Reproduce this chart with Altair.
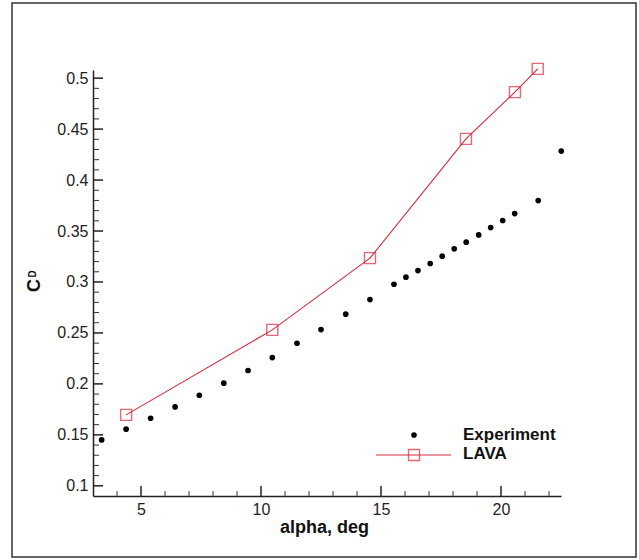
import altair as alt
import pandas as pd

# ---- data ----
exp_alpha = [3.36, 4.38, 5.40, 6.42, 7.43, 8.45, 9.46, 10.47, 11.50, 12.50,
             13.53, 14.54, 15.54, 16.04, 16.54, 17.05, 17.55, 18.05, 18.55,
             19.07, 19.57, 20.07, 20.57, 21.55, 22.51]
exp_cd = [0.145, 0.1556, 0.1663, 0.1774, 0.1889, 0.2007, 0.2131, 0.2258, 0.2399, 0.2533,
          0.2684, 0.2827, 0.2978, 0.3047, 0.3112, 0.3181, 0.3253, 0.3325, 0.3391,
          0.3462, 0.3534, 0.3603, 0.3671, 0.3799, 0.4284]

lava_alpha = [4.38, 10.47, 14.54, 18.54, 20.58, 21.53]
lava_cd = [0.1696, 0.2530, 0.3234, 0.4404, 0.4863, 0.5091]

x_major = [5, 10, 15, 20]
x_minor = [4, 6, 7, 8, 9, 11, 12, 13, 14, 16, 17, 18, 19, 21, 22]
y_major = [0.1, 0.15, 0.2, 0.25, 0.3, 0.35, 0.4, 0.45, 0.5]
y_minor = [0.11, 0.12, 0.13, 0.14, 0.16, 0.17, 0.18, 0.19, 0.21, 0.22, 0.23, 0.24,
           0.26, 0.27, 0.28, 0.29, 0.31, 0.32, 0.33, 0.34, 0.36, 0.37, 0.38, 0.39,
           0.41, 0.42, 0.43, 0.44, 0.46, 0.47, 0.48, 0.49]

legend_labels = ["Experiment", "LAVA"]
x_title = "alpha, deg"

W, H = 468, 426
RED = "#d8293f"
FONT = "Liberation Sans"

exp_df = pd.DataFrame({"alpha": exp_alpha, "cd": exp_cd})
lava_df = pd.DataFrame({"alpha": lava_alpha, "cd": lava_cd})

xs = alt.Scale(domain=[3, 22.5], nice=False, zero=False)
ys = alt.Scale(domain=[0.09, 0.508], nice=False, zero=False)

x_axis = alt.Axis(values=x_major, grid=False, ticks=False, tickSize=0, labelPadding=5,
                  labelFontSize=16, labelFont=FONT, labelColor="#222",
                  domainColor="#222", domainWidth=1.5,
                  title=x_title, titleFont=FONT, titleFontSize=18, titleFontWeight="bold",
                  titleColor="#111", titleX=231, titleY=36, titleBaseline="alphabetic")
y_axis = alt.Axis(values=y_major, format="~g", grid=False, ticks=False, tickSize=0,
                  labelPadding=5, labelFontSize=16, labelFont=FONT, labelColor="#222",
                  domainColor="#222", domainWidth=1.5, title=None)

one = alt.Data(values=[{"k": 1}])

frame = alt.Chart(one).mark_rect(fill="transparent", stroke="#333", strokeWidth=1.5).encode(
    x=alt.value(-81), x2=alt.value(543), y=alt.value(-67), y2=alt.value(487))

xmaj = alt.Chart(pd.DataFrame({"v": x_major})).mark_rule(color="#222", strokeWidth=1.5).encode(
    x=alt.X("v:Q", scale=xs, axis=x_axis), y=alt.value(H), y2=alt.value(H - 10))
xmin = alt.Chart(pd.DataFrame({"v": x_minor})).mark_rule(color="#333", strokeWidth=1).encode(
    x=alt.X("v:Q", scale=xs), y=alt.value(H), y2=alt.value(H - 5))
ymaj = alt.Chart(pd.DataFrame({"v": y_major})).mark_rule(color="#222", strokeWidth=1.5).encode(
    y=alt.Y("v:Q", scale=ys, axis=y_axis), x=alt.value(0), x2=alt.value(10))
ymin = alt.Chart(pd.DataFrame({"v": y_minor})).mark_rule(color="#333", strokeWidth=1).encode(
    y=alt.Y("v:Q", scale=ys), x=alt.value(0), x2=alt.value(6))

lava_line = alt.Chart(lava_df).mark_line(color=RED, strokeWidth=1.1).encode(
    x=alt.X("alpha:Q", scale=xs), y=alt.Y("cd:Q", scale=ys))
lava_pts = alt.Chart(lava_df).mark_point(shape="square", size=121, color=RED,
                                        strokeWidth=1.4, filled=False).encode(
    x=alt.X("alpha:Q", scale=xs), y=alt.Y("cd:Q", scale=ys))
exp_pts = alt.Chart(exp_df).mark_circle(size=32, color="black", opacity=1).encode(
    x=alt.X("alpha:Q", scale=xs), y=alt.Y("cd:Q", scale=ys))

# legend (drawn inside the plot, bottom right)
leg_dot = alt.Chart(one).mark_circle(size=32, color="black", opacity=1).encode(
    x=alt.value(321), y=alt.value(365))
leg_line = alt.Chart(one).mark_rule(color=RED, strokeWidth=1.1).encode(
    x=alt.value(283), x2=alt.value(358), y=alt.value(385))
leg_sq = alt.Chart(one).mark_point(shape="square", size=121, color=RED, strokeWidth=1.4,
                                  filled=False).encode(x=alt.value(321), y=alt.value(385))
leg_t1 = alt.Chart(one).mark_text(text=legend_labels[0], font=FONT, fontSize=17,
                                 fontWeight="bold", align="left", baseline="alphabetic",
                                 color="#111").encode(x=alt.value(370), y=alt.value(370))
leg_t2 = alt.Chart(one).mark_text(text=legend_labels[1], font=FONT, fontSize=17,
                                 fontWeight="bold", align="left", baseline="alphabetic",
                                 color="#111").encode(x=alt.value(370), y=alt.value(389))

# y title C_D
c_txt = alt.Chart(one).mark_text(text="C", font=FONT, fontSize=18, fontWeight="bold",
                                angle=270, align="center", baseline="middle",
                                color="#111").encode(x=alt.value(-58.5), y=alt.value(215.5))
d_txt = alt.Chart(one).mark_text(text="D", font=FONT, fontSize=10, fontWeight="bold",
                                angle=270, align="center", baseline="middle",
                                color="#111").encode(x=alt.value(-60), y=alt.value(204))

chart = alt.layer(frame, xmin, xmaj, ymin, ymaj, lava_line, lava_pts, exp_pts,
                  leg_line, leg_sq, leg_dot, leg_t1, leg_t2, c_txt, d_txt).properties(
    width=W, height=H,
    autosize=alt.AutoSizeParams(type="none"),
    padding={"left": 93, "top": 70, "right": 78, "bottom": 64},
    background="white",
).configure_view(stroke="transparent")

chart.save("out.html", embed_options={"renderer": "svg", "actions": False})
